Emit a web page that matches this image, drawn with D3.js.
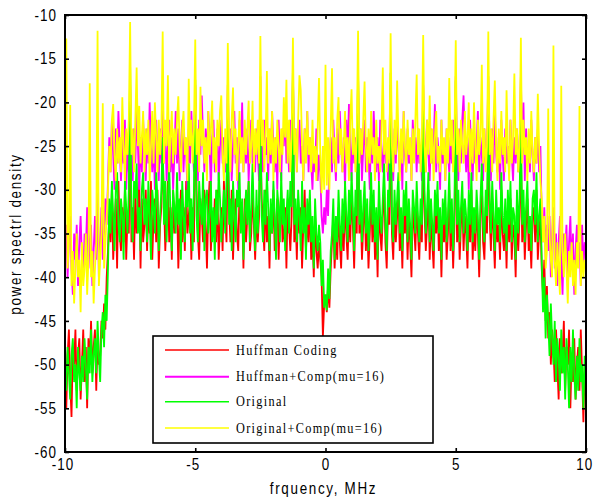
<!DOCTYPE html>
<html>
<head>
<meta charset="utf-8">
<script src="https://cdn.jsdelivr.net/npm/d3@7"></script>
<style>
  html, body { margin: 0; padding: 0; background: #fff; }
  svg { display: block; }
</style>
</head>
<body>
<svg id="chart" width="593" height="500"></svg>
<script>
// Spectrum sampled every 0.05 MHz from -10 MHz to +10 MHz (401 bins per trace)
const freqStart = -10;
const freqStep = 0.05;

const xTicks = [-10, -5, 0, 5, 10];
const yTicks = [-60, -55, -50, -45, -40, -35, -30, -25, -20, -15, -10];

const seriesNames = ["Huffman Coding", "Huffman+Comp(mu=16)", "Original", "Original+Comp(mu=16)"];
const seriesColors = ["#ff0000", "#ff00ff", "#00ff00", "#ffff00"];

// PSD traces, dB (one row = 25 bins = 1.25 MHz)
const huffman = [
-47,-55,-49,-46,-52,-56,-48,-50,-46,-53,-49,-47,-54,-50,-46,-52,-48,-55,-47,-50,-45,-51,-48,-46,-53,
-47,-50,-49,-45,-47,-43,-46,-40,-37,-33,-36,-30,-38,-34,-31,-39,-29,-35,-37,-32,-36,-30,-38,-33,-35,
-20,-36,-32,-38,-30,-35,-33,-29,-39,-31,-36,-34,-30,-37,-32,-35,-29,-38,-33,-31,-36,-30,-39,-34,-32,
-26,-31,-37,-33,-29,-36,-32,-38,-30,-35,-33,-31,-39,-34,-30,-36,-32,-37,-29,-35,-33,-31,-38,-32,-36,
-20,-30,-35,-38,-31,-33,-36,-30,-34,-39,-32,-29,-37,-33,-35,-31,-36,-30,-38,-34,-32,-37,-29,-33,-36,
-24,-32,-36,-30,-38,-33,-31,-35,-37,-30,-34,-32,-39,-31,-36,-33,-29,-37,-35,-30,-34,-38,-32,-36,-33,
-23,-31,-34,-37,-30,-36,-33,-39,-32,-35,-30,-37,-34,-31,-38,-33,-30,-36,-35,-32,-39,-31,-34,-37,-33,
-19,-36,-33,-38,-31,-35,-32,-39,-34,-30,-37,-33,-36,-31,-38,-35,-40,-33,-37,-39,-36,-38,-40,-46.8,-43,
-42,-44,-41,-43.5,-39,-36,-33,-39,-35,-38,-32,-36,-39,-33,-37,-31,-35,-38,-32,-36,-30,-34,-39,-32,-35,
-20,-35,-32,-38,-34,-31,-37,-33,-39,-35,-30,-36,-32,-38,-34,-40,-31,-35,-37,-33,-29,-36,-39,-32,-34,
-21,-35,-38,-32,-36,-33,-30,-37,-34,-39,-32,-35,-31,-38,-33,-36,-40,-32,-34,-37,-31,-35,-38,-33,-36,
-25,-32,-37,-34,-30,-38,-33,-36,-39,-32,-35,-31,-37,-34,-40,-33,-36,-32,-38,-35,-30,-37,-33,-39,-34,
-21,-36,-32,-38,-34,-31,-37,-33,-35,-39,-32,-36,-30,-38,-34,-37,-32,-35,-40,-33,-29,-36,-38,-32,-35,
-23,-33,-37,-31,-35,-39,-32,-36,-34,-38,-30,-35,-37,-33,-39,-32,-36,-31,-38,-34,-35,-40,-32,-37,-33,
-25,-36,-32,-38,-34,-31,-37,-35,-39,-33,-32,-36,-30,-38,-35,-33,-39,-42,-38,-45,-41,-47,-44,-50,-46,
-48,-52,-46,-50,-54,-47,-51,-49,-45,-53,-48,-50,-46,-55,-49,-52,-47,-54,-50,-48,-53,-46,-51,-56.6,-50,
-54];

const huffmanComp = [
-37,-34,-40,-36,-33,-39,-42,-35,-38,-34,-41,-36,-33,-38,-40,-35,-37,-32,-39,-36,-34,-41,-37,-33,-38,
-30,-40,-36,-32,-38,-35,-31,-34,-29,-24,-28,-22,-26,-30,-23,-27,-21,-25,-29,-24,-27,-22,-30,-25,-28,
-18,-26,-29,-23,-27,-21,-25,-30,-24,-28,-22,-26,-29,-23,-27,-20,-25,-28,-24,-30,-22,-26,-29,-23,-27,
-19,-27,-23,-29,-25,-22,-28,-24,-30,-26,-21,-27,-23,-29,-25,-22,-28,-24,-26,-30,-23,-27,-21,-25,-28,
-18,-25,-29,-22,-26,-19.2,-24,-28,-23,-27,-21,-25,-30,-24,-22,-28,-26,-23,-29,-25,-22,-27,-24,-28,-26,
-18,-26,-23,-29,-25,-21,-27,-24,-30,-22,-26,-20,-28,-24,-27,-23,-29,-25,-22,-27,-24,-28,-23,-26,-29,
-17,-25,-28,-22,-26,-24,-29,-23,-27,-21,-25,-28,-24,-30,-22,-26,-29,-23,-25,-20.6,-27,-24,-28,-22,-26,
-17,-26,-23,-28,-24,-22,-27,-25,-29,-23,-26,-21,-28,-24,-27,-30,-25,-28,-23,-29,-26,-28,-33,-35,-32,
-34,-30,-33,-27,-24,-28,-22,-26,-29,-23,-27,-21,-25,-28,-24,-30,-22,-26,-20.2,-25,-29,-23,-27,-24,-28,
-17,-27,-23,-29,-25,-22,-28,-24,-26,-30,-23,-27,-21,-25,-28,-24,-29,-22,-26,-28,-23,-27,-25,-29,-24,
-18,-26,-29,-23,-27,-22,-25,-28,-24,-30,-21,-26,-28,-23,-27,-25,-29,-22,-26,-24,-28,-23,-27,-25,-29,
-18,-24,-28,-22,-26,-29,-23,-27,-25,-20.2,-28,-24,-26,-30,-22,-27,-25,-29,-23,-26,-28,-24,-27,-22,-25,
-17,-26,-29,-23,-27,-22,-19.2,-25,-28,-24,-30,-22,-26,-29,-23,-27,-25,-21,-28,-24,-26,-29,-23,-27,-25,
-17,-25,-29,-23,-27,-21,-26,-28,-24,-30,-22,-26,-29,-23,-27,-25,-28,-22,-26,-29,-24,-27,-23,-28,-25,
-17,-26,-20,-29,-23,-27,-25,-28,-22,-26,-29,-24,-27,-23,-28,-25,-33,-36,-32,-38,-34,-37,-33,-40,-35,
-32,-39,-35,-41,-36,-33,-38,-42,-35,-37,-34,-40,-36,-33,-39,-35,-42,-37,-34,-38,-36,-41,-34,-39,-36,
-37];

const original = [
-50,-53,-48,-51,-54,-49,-47,-52,-50,-55,-48,-51,-53,-49,-52,-47,-50,-54,-48,-51,-46,-52,-49,-47,-51,
-45,-49,-52,-46,-44,-48,-42,-45,-39,-31,-35,-29,-33,-37,-30,-28,-34,-36,-31,-33,-38,-29,-32,-35,-30,
-15.9,-33,-36,-29,-31,-27,-35,-32,-37,-30,-28,-34,-31,-36,-29,-33,-38,-30,-32,-35,-28,-31,-37,-33,-30,
-24,-34,-29,-36,-31,-27,-33,-37,-30,-32,-35,-28,-34,-31,-38,-29,-33,-36,-30,-32,-27,-35,-31,-37,-30,
-17.4,-33,-36,-29,-32,-34,-28,-37,-31,-30,-35,-33,-29,-36,-32,-38,-30,-34,-28,-31,-36,-33,-30,-35,-29,
-22,-34,-31,-37,-29,-33,-36,-30,-32,-28,-35,-31,-38,-33,-30,-34,-29,-36,-32,-27,-33,-37,-30,-35,-31,
-21,-33,-36,-30,-34,-28,-32,-37,-31,-35,-29,-33,-38,-30,-32,-36,-28,-34,-31,-37,-33,-30,-35,-29,-32,
-15.8,-34,-31,-36,-30,-33,-37,-29,-35,-32,-38,-31,-34,-30,-36,-33,-39,-31,-35,-37,-34,-36,-41,-38,-43.5,
-42,-43.8,-39,-42.5,-37,-35,-31,-38,-33,-36,-30,-34,-37,-31,-35,-29,-33,-36,-30,-34,-28,-32,-37,-30,-33,
-16.3,-34,-30,-36,-32,-29,-35,-31,-37,-33,-28,-34,-30,-36,-32,-38,-29,-33,-35,-31,-27,-34,-37,-30,-32,
-16.6,-33,-36,-30,-34,-31,-28,-35,-32,-37,-30,-33,-29,-36,-31,-34,-38,-30,-32,-35,-29,-33,-36,-31,-34,
-21,-30,-35,-32,-28,-36,-31,-34,-37,-30,-33,-29,-35,-32,-38,-31,-34,-30,-36,-33,-28,-35,-31,-37,-32,
-17.5,-34,-30,-36,-32,-29,-35,-31,-33,-37,-30,-34,-28,-36,-32,-35,-30,-33,-38,-31,-27,-34,-36,-30,-33,
-20,-31,-35,-29,-33,-37,-30,-34,-32,-36,-28,-33,-35,-31,-37,-30,-34,-29,-36,-32,-33,-38,-30,-35,-31,
-22,-34,-30,-36,-32,-29,-35,-33,-37,-31,-30,-34,-28,-36,-33,-31,-38,-44,-40,-47,-42,-45,-49,-43,-47,
-50,-45,-52,-47,-49,-53,-46,-51,-48,-54,-47,-50,-55,-48,-52,-46,-51,-54,-49,-53,-47,-52,-50,-55,-49,
-51];

const originalComp = [
-38,-12.7,-39,-36,-20.3,-41,-37,-43,-39,-35,-40,-38,-44,-36,-41,-39,-35,-42,-38,-17.8,-40,-37,-43,-39,-36,
-11.8,-41,-38,-35,-20.1,-39,-36,-33,-30,-25,-28,-22,-20.2,-26,-29,-23,-27,-24,-28,-19.4,-25,-29,-23,-26,-22,
-10.8,-26,-23,-28,-22,-16,-25,-20.4,-27,-24,-21,-28,-23,-26,-22,-29,-25,-21,-27,-20,-24,-28,-22,-26,-23,
-11.9,-27,-22,-25,-16.9,-28,-24,-21,-27,-23,-26,-22,-19.3,-25,-28,-23,-21,-26,-24,-29,-17.3,-25,-22,-27,-23,
-12.8,-26,-23,-28,-18.2,-25,-22,-27,-24,-29,-21,-26,-23,-19.8,-27,-24,-28,-22,-25,-21,-19.2,-26,-29,-23,-27,
-13.2,-24,-28,-22,-18.3,-26,-23,-29,-25,-21,-27,-24,-28,-22,-26,-23,-19.8,-27,-25,-19.8,-28,-23,-26,-22,-27,
-12.4,-25,-22,-28,-24,-16.4,-27,-23,-26,-21,-29,-24,-27,-22,-25,-28,-23,-26,-19.4,-24,-17.4,-27,-22,-28,-24,
-12.6,-26,-23,-28,-22,-16.9,-18.6,-25,-29,-23,-27,-21,-26,-24,-28,-22,-27,-25,-29,-23,-17.2,-26,-30.4,-25,-30,
-15.7,-29.5,-24,-30,-23,-16.1,-27,-24,-28,-22,-19.4,-26,-23,-28,-25,-21,-27,-24,-29,-22,-18.5,-26,-23,-28,-24,
-11.8,-27,-23,-26,-22,-17.6,-25,-28,-23,-27,-21,-26,-24,-29,-22,-27,-25,-28,-23,-16,-26,-22,-28,-24,-27,
-12.1,-25,-28,-22,-26,-17.5,-24,-29,-23,-27,-21,-25,-28,-22,-26,-24,-29,-23,-27,-22,-16.8,-26,-23,-28,-24,
-12.3,-25,-28,-22,-26,-19.2,-27,-23,-29,-24,-21,-27,-25,-28,-22,-26,-24,-29,-23,-27,-17.2,-25,-22,-28,-24,
-12.9,-26,-23,-28,-22,-25,-27,-21,-26,-24,-20,-28,-23,-27,-20,-25,-29,-22,-26,-24,-15.7,-27,-23,-28,-25,
-11.9,-26,-23,-28,-22,-17.5,-25,-29,-23,-27,-21,-26,-24,-28,-18.6,-25,-29,-22,-27,-24,-16.7,-26,-23,-28,-25,
-12.6,-27,-22,-26,-24,-29,-23,-27,-21,-26,-28,-24,-27,-19,-25,-29,-31,-36,-33,-39,-37,-20.7,-35,-38,-40,
-13.5,-38,-41,-36,-39,-42,-18.1,-37,-40,-35,-39,-43,-37,-40,-36,-41,-38,-42,-36,-39,-20.4,-41,-37,-40,-38,
-39];

// drawing order follows the legend: red, magenta, green, yellow on top
const seriesValues = [huffman, huffmanComp, original, originalComp];
seriesValues.forEach((s, k) => {
  if (s.length !== 401) throw new Error(seriesNames[k] + " has " + s.length + " bins");
});

const svg = d3.select("#chart");
const plot = { left: 65, right: 586, top: 15, bottom: 452 };

const x = d3.scaleLinear().domain([-10, 10]).range([plot.left, plot.right]);
const y = d3.scaleLinear().domain([-60, -10]).range([plot.bottom, plot.top]);

svg.append("rect").attr("width", 593).attr("height", 500).attr("fill", "#fff");

svg.append("defs").append("clipPath").attr("id", "plotClip")
  .append("rect")
  .attr("x", plot.left).attr("y", plot.top)
  .attr("width", plot.right - plot.left).attr("height", plot.bottom - plot.top);

const line = d3.line()
  .x((d, i) => x(freqStart + i * freqStep))
  .y(d => y(d));

const traces = svg.append("g").attr("clip-path", "url(#plotClip)");
seriesValues.forEach((vals, k) => {
  traces.append("path")
    .datum(vals)
    .attr("fill", "none")
    .attr("stroke", seriesColors[k])
    .attr("stroke-width", 1.8)
    .attr("stroke-linejoin", "bevel")
    .attr("d", line);
});

// axes: ticks point inward on all four sides
const tickFont = "'Liberation Sans', Arial, sans-serif";
const squeeze = 0.84;

function styleAxis(g) {
  g.select(".domain").remove();
  g.selectAll(".tick line").attr("stroke", "#000").attr("stroke-width", 1.6);
  g.selectAll(".tick text")
    .attr("fill", "#000")
    .style("font-family", tickFont)
    .style("font-size", "16px")
    .style("letter-spacing", "1.2px");
}

const fmt = d => String(d);

const gx = svg.append("g")
  .attr("transform", `translate(0,${plot.bottom})`)
  .call(d3.axisBottom(x).tickValues(xTicks).tickSize(-4).tickPadding(7).tickFormat(fmt));
styleAxis(gx);
gx.selectAll(".tick text")
  .attr("transform", `scale(${squeeze},1)`)
  .attr("dx", d => d < 0 ? -3 : (d === 10 ? -2 : 0));

const gy = svg.append("g")
  .attr("transform", `translate(${plot.left},0)`)
  .call(d3.axisLeft(y).tickValues(yTicks).tickSize(-4).tickPadding(8 / squeeze).tickFormat(fmt));
styleAxis(gy);
gy.selectAll(".tick text").attr("transform", `scale(${squeeze},1)`);

const gt = svg.append("g")
  .attr("transform", `translate(0,${plot.top})`)
  .call(d3.axisTop(x).tickValues(xTicks).tickSize(-4).tickFormat(""));
styleAxis(gt);

const gr = svg.append("g")
  .attr("transform", `translate(${plot.right},0)`)
  .call(d3.axisRight(y).tickValues(yTicks).tickSize(-4).tickFormat(""));
styleAxis(gr);

// frame
svg.append("rect")
  .attr("x", plot.left).attr("y", plot.top)
  .attr("width", plot.right - plot.left).attr("height", plot.bottom - plot.top)
  .attr("fill", "none").attr("stroke", "#000").attr("stroke-width", 2);

// axis titles
svg.append("text")
  .attr("transform", `translate(${(plot.left + plot.right) / 2 - 2},494) scale(${squeeze},1)`)
  .attr("text-anchor", "middle")
  .style("font-family", tickFont).style("font-size", "16px").style("letter-spacing", "2px")
  .attr("fill", "#000")
  .text("frquency, MHz");

svg.append("text")
  .attr("transform", `translate(21,234) rotate(-90) scale(${squeeze},1)`)
  .attr("text-anchor", "middle")
  .style("font-family", tickFont).style("font-size", "16px").style("letter-spacing", "2px")
  .attr("fill", "#000")
  .text("power spectrl density");

// legend
const legend = svg.append("g");
legend.append("rect")
  .attr("x", 153).attr("y", 336).attr("width", 280).attr("height", 107)
  .attr("fill", "#fff").attr("stroke", "#000").attr("stroke-width", 1.6);
const rowY = [350, 376.7, 401.7, 428];
seriesNames.forEach((name, k) => {
  legend.append("line")
    .attr("x1", 165).attr("x2", 229)
    .attr("y1", rowY[k]).attr("y2", rowY[k])
    .attr("stroke", seriesColors[k]).attr("stroke-width", k === 1 ? 2 : 1.6);
  legend.append("text")
    .attr("transform", `translate(236,${rowY[k] + 4.6}) scale(0.82,1)`)
    .style("font-family", "'Liberation Serif', 'Times New Roman', serif")
    .style("font-size", "15px")
    .style("letter-spacing", "1.6px")
    .attr("fill", "#000")
    .text(name);
});
</script>
</body>
</html>
